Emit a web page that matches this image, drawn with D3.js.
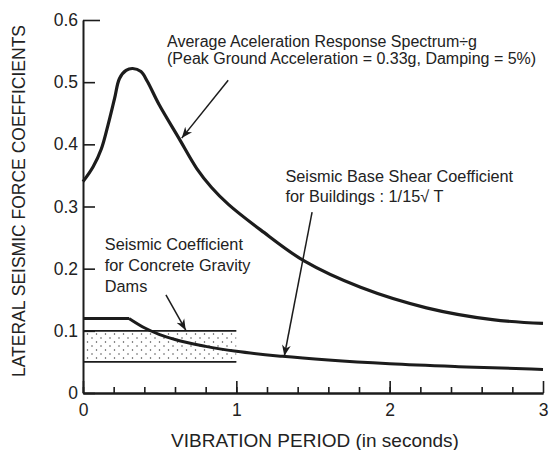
<!DOCTYPE html>
<html lang="en">
<head>
	<meta charset="utf-8"/>
	<title> Lateral Seismic Force Coefficients </title>
	<script src="https://cdnjs.cloudflare.com/ajax/libs/d3/7.8.5/d3.min.js"></script>
	<style>
		body { margin: 0; background: #fff; }
		svg text { font-family: "Liberation Sans", Arial, Helvetica, sans-serif; fill: #222; }
	</style>
</head>
<body>
<div id="chart"></div>
<script type="text/javascript">
	// values
	var spectrumT   = [0, 0.066, 0.12, 0.163, 0.206, 0.238, 0.281, 0.324, 0.378, 0.42, 0.496, 0.625, 0.742, 0.837, 0.95, 1.16, 1.445, 1.81, 2.24, 2.67, 3.0];
	var spectrumVal = [0.340, 0.364, 0.393, 0.431, 0.474, 0.506, 0.519, 0.522, 0.517, 0.501, 0.464, 0.41, 0.361, 0.331, 0.303, 0.262, 0.212, 0.170, 0.137, 0.118, 0.112];

	var buildingT   = [0, 0.3, 0.4, 0.5, 0.6, 0.8, 1.0, 1.3, 1.6, 2.0, 2.5, 3.0];
	var buildingVal = [0.12, 0.12, 0.105, 0.094, 0.086, 0.075, 0.067, 0.059, 0.053, 0.047, 0.042, 0.038];

	var damT    = [0, 1];
	var damLow  = 0.05;
	var damHigh = 0.1;

	var xTickValues = [0, 1, 2, 3];
	var xTickLabels = ["0", "1", "2", "3"];
	var yTickValues = [0, 0.1, 0.2, 0.3, 0.4, 0.5, 0.6];
	var yTickLabels = ["0", "0.1", "0.2", "0.3", "0.4", "0.5", "0.6"];

	var W = 549, H = 450;
	var svg = d3.select("#chart").append("svg")
		.attr("width", W).attr("height", H);

	var x = d3.scaleLinear().domain([0, 3]).range([83, 543]);
	var y = d3.scaleLinear().domain([0, 0.6]).range([393, 20]);

	var ink = "#1c1c1c";

	// dotted fill for the dam band
	var defs = svg.append("defs");
	var pat = defs.append("pattern")
		.attr("id", "dots")
		.attr("width", 9).attr("height", 8)
		.attr("patternUnits", "userSpaceOnUse");
	pat.append("circle").attr("cx", 2).attr("cy", 2).attr("r", 0.75).attr("fill", "#444");
	pat.append("circle").attr("cx", 6.5).attr("cy", 6).attr("r", 0.75).attr("fill", "#444");

	defs.append("marker")
		.attr("id", "head")
		.attr("viewBox", "0 0 10 10")
		.attr("refX", 10).attr("refY", 5)
		.attr("markerWidth", 11).attr("markerHeight", 11)
		.attr("markerUnits", "userSpaceOnUse")
		.attr("orient", "auto")
		.append("path").attr("d", "M0,1 L10,5 L0,9 L3,5 Z").attr("fill", ink);

	// dam band
	svg.append("rect")
		.attr("x", x(damT[0])).attr("y", y(damHigh))
		.attr("width", x(damT[1]) - x(damT[0]))
		.attr("height", y(damLow) - y(damHigh))
		.attr("fill", "url(#dots)");
	[damLow, damHigh].forEach(function(v) {
		svg.append("line")
			.attr("x1", x(damT[0])).attr("x2", x(damT[1]))
			.attr("y1", y(v)).attr("y2", y(v))
			.attr("stroke", ink).attr("stroke-width", 1.6);
	});

	// axes
	var yAxis = d3.axisLeft(y).tickValues(yTickValues)
		.tickFormat(function(d, i) { return yTickLabels[i]; })
		.tickSizeInner(-12).tickSizeOuter(0).tickPadding(5);
	var gy = svg.append("g").attr("transform", "translate(" + x(0) + ",0)").call(yAxis);

	var xMinor = d3.axisBottom(x).tickValues(d3.range(0, 15).map(function(i) { return i * 0.2; }))
		.tickFormat("").tickSizeInner(-6).tickSizeOuter(0);
	var gxm = svg.append("g").attr("transform", "translate(0," + y(0) + ")").call(xMinor);

	var xAxis = d3.axisBottom(x).tickValues(xTickValues)
		.tickFormat(function(d, i) { return xTickLabels[i]; })
		.tickSizeInner(-12).tickSizeOuter(0).tickPadding(11);
	var gx = svg.append("g").attr("transform", "translate(0," + y(0) + ")").call(xAxis);

	[gy, gxm, gx].forEach(function(g) {
		g.select(".domain").attr("stroke", ink).attr("stroke-width", 2);
		g.selectAll(".tick line").attr("stroke", ink).attr("stroke-width", 1.6);
		g.selectAll(".tick text").attr("font-size", 17.5).attr("fill", "#222");
	});
	// top tick of the y axis is a bit longer
	gy.selectAll(".tick line").filter(function(d) { return d === 0.6; }).attr("x2", 17);

	// curves
	var spectrum = spectrumT.map(function(t, i) { return [t, spectrumVal[i]]; });
	var building = buildingT.map(function(t, i) { return [t, buildingVal[i]]; });

	var line = d3.line().x(function(d) { return x(d[0]); }).y(function(d) { return y(d[1]); });

	svg.append("path")
		.attr("d", line.curve(d3.curveCatmullRom.alpha(0.5))(spectrum))
		.attr("fill", "none").attr("stroke", ink).attr("stroke-width", 3.2);

	svg.append("path")
		.attr("d", line.curve(d3.curveLinear)(building.slice(0, 2)))
		.attr("fill", "none").attr("stroke", ink).attr("stroke-width", 3);
	svg.append("path")
		.attr("d", line.curve(d3.curveMonotoneX)(building.slice(1)))
		.attr("fill", "none").attr("stroke", ink).attr("stroke-width", 3);

	// annotations (anchors in data units)
	var notes = [
		{ lines: ["Average Aceleration Response Spectrum\u00F7g",
		          "(Peak Ground Acceleration = 0.33g, Damping = 5%)"],
		  at: [0.548, 0.557], step: 17, size: 16, from: [0.947, 0.503], to: [0.644, 0.41] },
		{ lines: ["Seismic Base Shear Coefficient", "for Buildings : 1/15\u221A T"],
		  at: [1.32, 0.339], step: 20, size: 16.3, from: [1.494, 0.291], to: [1.313, 0.0595] },
		{ lines: ["Seismic Coefficient", "for Concrete Gravity", "Dams"],
		  at: [0.142, 0.230], step: 21, size: 16.3, from: [0.541, 0.158], to: [0.67, 0.101] }
	];

	notes.forEach(function(n) {
		var t = svg.append("text")
			.attr("x", x(n.at[0])).attr("y", y(n.at[1]))
			.attr("font-size", n.size);
		n.lines.forEach(function(s, i) {
			t.append("tspan").attr("x", x(n.at[0])).attr("dy", i === 0 ? 0 : n.step).text(s);
		});
		svg.append("line")
			.attr("x1", x(n.from[0])).attr("y1", y(n.from[1]))
			.attr("x2", x(n.to[0])).attr("y2", y(n.to[1]))
			.attr("stroke", ink).attr("stroke-width", 1.5)
			.attr("marker-end", "url(#head)");
	});

	// axis titles
	svg.append("text")
		.attr("transform", "translate(25,201) rotate(-90)")
		.attr("text-anchor", "middle")
		.attr("font-size", 17.5)
		.text("LATERAL SEISMIC FORCE COEFFICIENTS");

	svg.append("text")
		.attr("x", 315).attr("y", 447)
		.attr("text-anchor", "middle")
		.attr("font-size", 19)
		.text("VIBRATION PERIOD (in seconds)");
</script>
</body>
</html>
